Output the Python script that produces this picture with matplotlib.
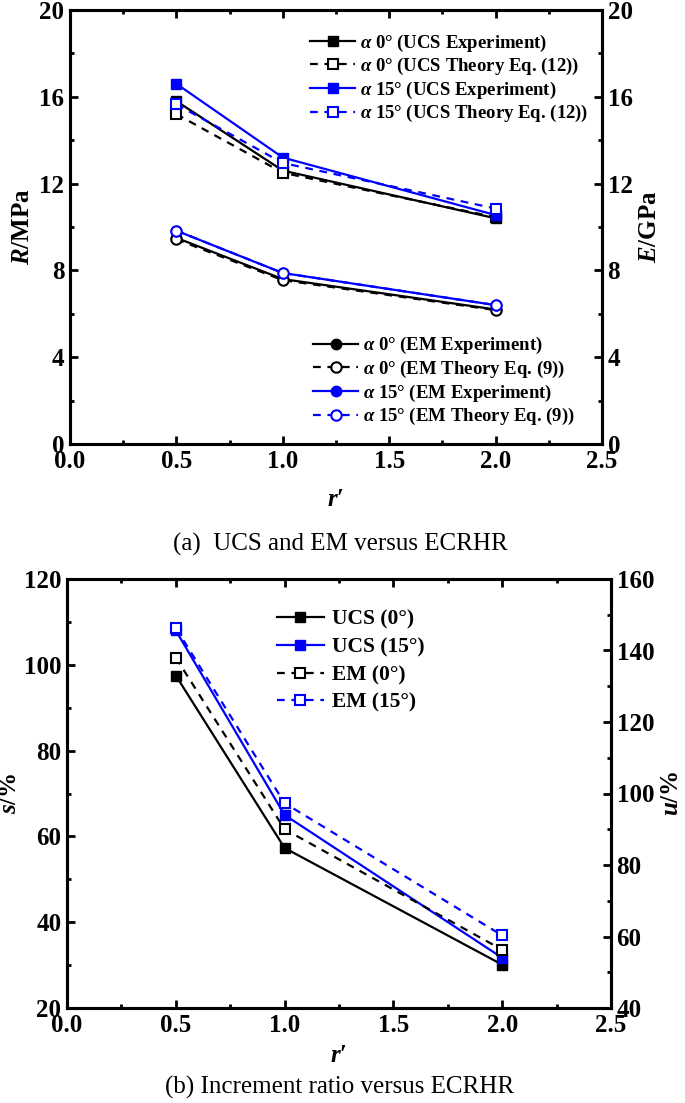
import numpy as np
import matplotlib.pyplot as plt
from matplotlib.lines import Line2D

plt.rcParams['font.family'] = ['Liberation Serif', 'DejaVu Serif']
plt.rcParams['font.weight'] = 'bold'
plt.rcParams['axes.labelweight'] = 'bold'
plt.rcParams['mathtext.fontset'] = 'custom'
plt.rcParams['mathtext.it'] = 'Liberation Serif:italic:bold'
plt.rcParams['mathtext.rm'] = 'Liberation Serif:bold'
plt.rcParams['mathtext.bf'] = 'Liberation Serif:bold'

# r' values
r = [0.5, 1.0, 2.0]

# (a) UCS (MPa) and EM (GPa)
ucs0_exp = [15.8, 12.6, 10.4]
ucs0_th = [15.2, 12.5, 10.45]
ucs15_exp = [16.6, 13.2, 10.55]
ucs15_th = [15.65, 12.95, 10.85]
em0_exp = [9.5, 7.6, 6.2]
em0_th = [9.43, 7.55, 6.17]
em15_exp = [9.83, 7.88, 6.4]
em15_th = [9.83, 7.88, 6.4]

# (b) increment ratios (%)
s_ucs0 = [97.5, 57.3, 30.1]
s_ucs15 = [108.0, 65.0, 31.7]
u_em0 = [138.0, 90.0, 56.3]
u_em15 = [146.3, 97.3, 60.3]

BLUE = '#0000FF'
TICK = 18
MS = 7.5
LW = 1.6
DASH = (0, (3.5, 3))


def style_ax(ax, ax2, ylim, yt, y2lim, y2t):
    ax.set_xlim(0, 2.5)
    ax.set_xticks(np.arange(0, 2.51, 0.5))
    ax.set_xticks(np.arange(0, 2.51, 0.25), minor=True)
    ax.set_ylim(*ylim)
    ax.set_yticks(yt)
    ax.set_yticks(np.arange(ylim[0], ylim[1] + 0.01, (yt[1] - yt[0]) / 2), minor=True)
    ax2.set_ylim(*y2lim)
    ax2.set_yticks(y2t)
    ax2.set_yticks(np.arange(y2lim[0], y2lim[1] + 0.01, (y2t[1] - y2t[0]) / 2), minor=True)
    ax.tick_params(which='both', direction='in', top=True, width=2, labelsize=TICK, pad=4)
    ax.tick_params(which='major', length=6)
    ax.tick_params(which='minor', length=3)
    ax2.tick_params(which='both', direction='in', width=2, labelsize=TICK, pad=4)
    ax2.tick_params(which='major', length=6)
    ax2.tick_params(which='minor', length=3)
    for sp in ax.spines.values():
        sp.set_linewidth(2.2)
    for sp in ax2.spines.values():
        sp.set_linewidth(2.2)
    ax.xaxis.set_major_formatter(plt.FormatStrFormatter('%.1f'))


fig = plt.figure(figsize=(6.85, 11.03), dpi=100)

# ---------- (a)
ax = fig.add_axes([70 / 685, 1 - 444 / 1103, 532 / 685, 434 / 1103])
ax2 = ax.twinx()
style_ax(ax, ax2, (0, 20), [0, 4, 8, 12, 16, 20], (0, 20), [0, 4, 8, 12, 16, 20])

ax.plot(r, ucs0_exp, '-s', color='k', lw=LW, ms=MS, mfc='k', zorder=3)
ax.plot(r, ucs0_th, ls=DASH, marker='s', color='k', lw=LW, ms=MS, mfc='white', mew=1.5, zorder=3)
ax.plot(r, ucs15_exp, '-s', color=BLUE, lw=LW, ms=MS, mfc=BLUE, zorder=4)
ax.plot(r, ucs15_th, ls=DASH, marker='s', color=BLUE, lw=LW, ms=MS, mfc='white', mew=1.5, zorder=4)
ax2.plot(r, em0_exp, '-o', color='k', lw=LW, ms=MS, mfc='k')
ax2.plot(r, em0_th, ls=DASH, marker='o', color='k', lw=LW, ms=MS, mfc='white', mew=1.5)
ax2.plot(r, em15_exp, '-o', color=BLUE, lw=LW, ms=MS, mfc=BLUE)
ax2.plot(r, em15_th, ls=DASH, marker='o', color=BLUE, lw=LW, ms=MS, mfc='white', mew=1.5)

ax.set_ylabel('$\\mathit{R}$/MPa', fontsize=18, labelpad=4)
ax2.set_ylabel('$\\mathit{E}$/GPa', fontsize=18, labelpad=4)
ax.set_xlabel('$\\mathit{r}$\u2032', fontsize=18, labelpad=11)

h_ucs = [
    Line2D([], [], ls='-', marker='s', color='k', lw=LW, ms=MS, mfc='k'),
    Line2D([], [], ls=DASH, marker='s', color='k', lw=LW, ms=MS, mfc='white', mew=1.5),
    Line2D([], [], ls='-', marker='s', color=BLUE, lw=LW, ms=MS, mfc=BLUE),
    Line2D([], [], ls=DASH, marker='s', color=BLUE, lw=LW, ms=MS, mfc='white', mew=1.5),
]
l_ucs = ['$\\mathit{\\alpha}$ 0\u00b0 (UCS Experiment)',
         '$\\mathit{\\alpha}$ 0\u00b0 (UCS Theory Eq. (12))',
         '$\\mathit{\\alpha}$ 15\u00b0 (UCS Experiment)',
         '$\\mathit{\\alpha}$ 15\u00b0 (UCS Theory Eq. (12))']
leg1 = ax2.legend(h_ucs, l_ucs, loc='upper left', bbox_to_anchor=(301 / 685, 1 - 23 / 1103),
                  bbox_transform=fig.transFigure, frameon=False, fontsize=13.5,
                  handlelength=2.4, handletextpad=0.25, labelspacing=0.13, borderpad=0)
ax2.add_artist(leg1)

h_em = [
    Line2D([], [], ls='-', marker='o', color='k', lw=LW, ms=MS, mfc='k'),
    Line2D([], [], ls=DASH, marker='o', color='k', lw=LW, ms=MS, mfc='white', mew=1.5),
    Line2D([], [], ls='-', marker='o', color=BLUE, lw=LW, ms=MS, mfc=BLUE),
    Line2D([], [], ls=DASH, marker='o', color=BLUE, lw=LW, ms=MS, mfc='white', mew=1.5),
]
l_em = ['$\\mathit{\\alpha}$ 0\u00b0 (EM Experiment)',
        '$\\mathit{\\alpha}$ 0\u00b0 (EM Theory Eq. (9))',
        '$\\mathit{\\alpha}$ 15\u00b0 (EM Experiment)',
        '$\\mathit{\\alpha}$ 15\u00b0 (EM Theory Eq. (9))']
ax2.legend(h_em, l_em, loc='upper left', bbox_to_anchor=(304 / 685, 1 - 326 / 1103),
           bbox_transform=fig.transFigure, frameon=False, fontsize=13.5,
           handlelength=2.4, handletextpad=0.25, labelspacing=0.13, borderpad=0)

fig.text(340 / 685, 1 - 544 / 1103, '(a)  UCS and EM versus ECRHR', ha='center', va='center',
         fontsize=18, fontweight='normal')

# ---------- (b)
bx = fig.add_axes([67 / 685, 1 - 1008 / 1103, 544 / 685, 429 / 1103])
bx2 = bx.twinx()
style_ax(bx, bx2, (20, 120), [20, 40, 60, 80, 100, 120], (40, 160), [40, 60, 80, 100, 120, 140, 160])

bx.plot(r, s_ucs0, '-s', color='k', lw=LW, ms=MS, mfc='k', label='UCS (0\u00b0)')
bx.plot(r, s_ucs15, '-s', color=BLUE, lw=LW, ms=MS, mfc=BLUE, label='UCS (15\u00b0)')
bx2.plot(r, u_em0, ls=DASH, marker='s', color='k', lw=LW, ms=MS, mfc='white', mew=1.5, label='EM (0\u00b0)')
bx2.plot(r, u_em15, ls=DASH, marker='s', color=BLUE, lw=LW, ms=MS, mfc='white', mew=1.5, label='EM (15\u00b0)')

bx.set_ylabel('$\\mathit{s}$/%', fontsize=18, labelpad=2)
bx2.set_ylabel('$\\mathit{u}$/%', fontsize=18, labelpad=4)
bx.set_xlabel('$\\mathit{r}$\u2032', fontsize=18, labelpad=5)

hb = bx.get_legend_handles_labels()
hb2 = bx2.get_legend_handles_labels()
bx2.legend(hb[0] + hb2[0], hb[1] + hb2[1], loc='upper left', bbox_to_anchor=(266 / 685, 1 - 599 / 1103),
           bbox_transform=fig.transFigure, frameon=False, fontsize=15.5,
           handlelength=2.2, handletextpad=0.35, labelspacing=0.35, borderpad=0)

fig.text(340 / 685, 1 - 1087 / 1103, '(b) Increment ratio versus ECRHR', ha='center', va='center',
         fontsize=18, fontweight='normal')

fig.savefig('out.png', dpi=100)
